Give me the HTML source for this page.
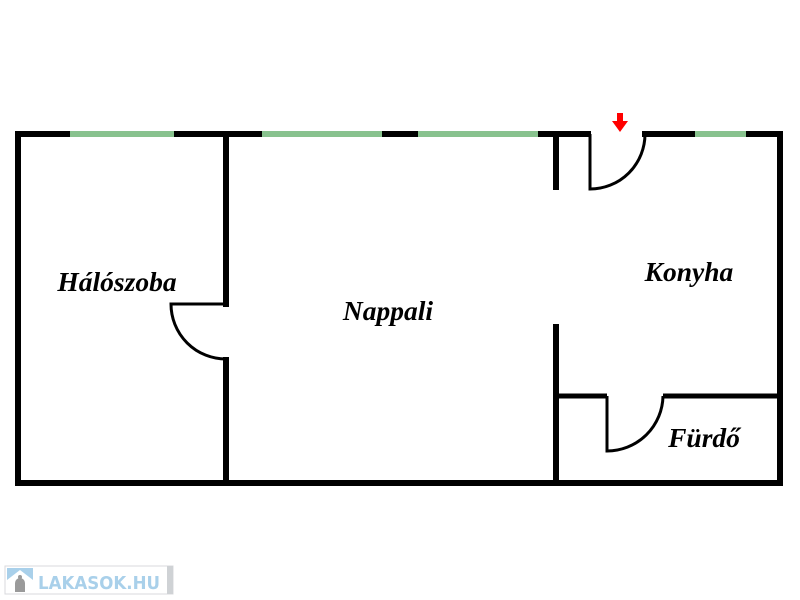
<!DOCTYPE html>
<html><head><meta charset="utf-8"><style>
html,body{margin:0;padding:0;background:#fff;width:800px;height:600px;overflow:hidden}
</style></head><body>
<svg width="800" height="600" viewBox="0 0 800 600" xmlns="http://www.w3.org/2000/svg">
<g stroke="#000" stroke-width="6" fill="none" stroke-linecap="square">
<polyline points="588,134 18,134 18,483 780,483 780,134 645,134"/>
<line x1="226" y1="134" x2="226" y2="304"/>
<line x1="226" y1="360" x2="226" y2="483"/>
<line x1="556" y1="134" x2="556" y2="187"/>
<line x1="556" y1="327" x2="556" y2="483"/>
</g>
<line x1="556" y1="396" x2="607" y2="396" stroke="#000" stroke-width="5"/>
<line x1="663" y1="396" x2="780" y2="396" stroke="#000" stroke-width="5"/>
<g stroke="#88c28e" stroke-width="6">
<line x1="70" y1="134" x2="174" y2="134"/>
<line x1="262" y1="134" x2="382" y2="134"/>
<line x1="418" y1="134" x2="538" y2="134"/>
<line x1="695" y1="134" x2="746" y2="134"/>
</g>
<g stroke="#000" stroke-width="3" fill="none">
<path d="M226,304 L171,304 A55,55 0 0 0 226,359"/>
<path d="M590,134 L590,189 A55,55 0 0 0 645,134"/>
<path d="M607,396 L607,451 A56,56 0 0 0 663,396"/>
</g>
<polygon points="617,113 623,113 623,121 628,121 620,132 612,121 617,121" fill="#f00"/>
<g font-family="Liberation Serif, serif" font-weight="bold" font-style="italic" font-size="27.5" fill="#000" text-anchor="middle">
<text x="117" y="291">Hálószoba</text>
<text x="388" y="320">Nappali</text>
<text x="689" y="281">Konyha</text>
<text x="704" y="447">Fürdő</text>
</g>
<rect x="5" y="566" width="168" height="28" fill="#fff" stroke="#d8dadd" stroke-width="1"/>
<rect x="167" y="566" width="6" height="28" fill="#cfd2d5"/>
<rect x="7" y="568" width="26" height="24" fill="#a9d0ea"/>
<polygon points="7,580 20,570 33,580 33,592 7,592" fill="#fff"/>
<path d="M15,592 L15,583 A5,5 0 0 1 25,583 L25,592 Z" fill="#9a9a9a"/>
<circle cx="20" cy="577" r="2" fill="#9a9a9a"/>
<text x="38" y="589" font-family="DejaVu Sans, sans-serif" font-weight="bold" font-size="18" fill="#a9d0ea" textLength="122" lengthAdjust="spacingAndGlyphs">LAKASOK.HU</text>
</svg>
</body></html>
